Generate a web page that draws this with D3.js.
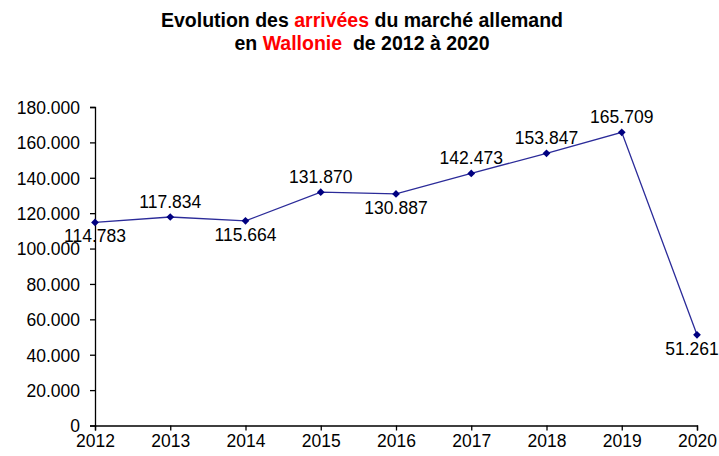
<!DOCTYPE html>
<head>
  <style>
    body { margin: 0; background: #fff; }
    text { font-family: "Liberation Sans", Arial, sans-serif; }
  </style>
<title>Evolution des arrivées du marché allemand en Wallonie</title>
</head>
<body>
  <script src="https://cdn.jsdelivr.net/npm/d3@7"></script>
  <script>
    // data
    var years = [2012, 2013, 2014, 2015, 2016, 2017, 2018, 2019, 2020];
    var arrivals = [114783, 117834, 115664, 131870, 130887, 142473, 153847, 165709, 51261];
    // label above (-1) or below (1) the point
    var labelSide = [1, -1, 1, -1, 1, -1, -1, -1, 1];
    var yTicks = [0, 20000, 40000, 60000, 80000, 100000, 120000, 140000, 160000, 180000];

    var margin = {top: 107, right: 22, bottom: 30, left: 95},
        width = 719 - margin.left - margin.right,
        height = 425.5 - margin.top;

    var fr = d3.formatLocale({decimal: ",", thousands: ".", grouping: [3], currency: ["", "€"]});
    var fmt = fr.format(",d");

    var x = d3.scalePoint().domain(years).range([0, width]);
    var y = d3.scaleLinear().domain([0, 180000]).range([height, 0]);

    var svg = d3.select("body").append("svg")
        .attr("width", 719)
        .attr("height", 456);

    // title
    var title = svg.append("text")
        .attr("x", 362)
        .attr("text-anchor", "middle")
        .style("font-weight", "bold")
        .style("font-size", "19.5px")
        .style("white-space", "pre");
    var t1 = title.append("tspan").attr("x", 362).attr("y", 27);
    t1.append("tspan").text("Evolution des ");
    t1.append("tspan").attr("fill", "#ff0000").text("arrivées");
    t1.append("tspan").text(" du marché allemand");
    var t2 = title.append("tspan").attr("x", 362).attr("y", 50);
    t2.append("tspan").text("en ");
    t2.append("tspan").attr("fill", "#ff0000").text("Wallonie");
    t2.append("tspan").text("  de 2012 à 2020");

    var g = svg.append("g")
        .attr("transform", "translate(" + margin.left + "," + margin.top + ")");

    // axes
    var yAxis = g.append("g")
        .call(d3.axisLeft(y).tickValues(yTicks).tickFormat(function (d) { return d === 0 ? "0" : fmt(d); })
          .tickSizeOuter(0).tickSize(5).tickPadding(10));
    var xAxis = g.append("g")
        .attr("transform", "translate(0," + height + ")")
        .call(d3.axisBottom(x).tickSizeOuter(0).tickSize(5).tickPadding(4));

    g.selectAll(".domain").attr("stroke", "#000").attr("stroke-width", 1.3);
    g.selectAll(".tick line").attr("stroke", "#000").attr("stroke-width", 1.3);
    g.selectAll(".tick text").attr("fill", "#000").style("font-size", "17.5px")
      .style("font-family", "'Liberation Sans', Arial, sans-serif");
    yAxis.selectAll(".tick text").attr("dy", "0.36em");

    // line
    var line = d3.line()
        .x(function (d, i) { return x(years[i]); })
        .y(function (d) { return y(d); });

    g.append("path")
        .datum(arrivals)
        .attr("fill", "none")
        .attr("stroke", "#2b2b99")
        .attr("stroke-width", 1.3)
        .attr("d", line);

    // markers (square diamonds)
    g.selectAll(".pt")
        .data(arrivals)
        .enter().append("path")
        .attr("class", "pt")
        .attr("d", d3.symbol().type(d3.symbolSquare).size(30))
        .attr("transform", function (d, i) { return "translate(" + x(years[i]) + "," + y(d) + ") rotate(45)"; })
        .attr("fill", "#000080");

    // value labels
    g.selectAll(".lbl")
        .data(arrivals)
        .enter().append("text")
        .attr("class", "lbl")
        .attr("x", function (d, i) { return Math.min(x(years[i]), width - 5); })
        .attr("y", function (d, i) { return y(d) + (labelSide[i] > 0 ? 20 : -9); })
        .attr("text-anchor", "middle")
        .style("font-size", "17.5px")
        .attr("fill", "#000")
        .text(function (d) { return fmt(d); });
  </script>
</body>
